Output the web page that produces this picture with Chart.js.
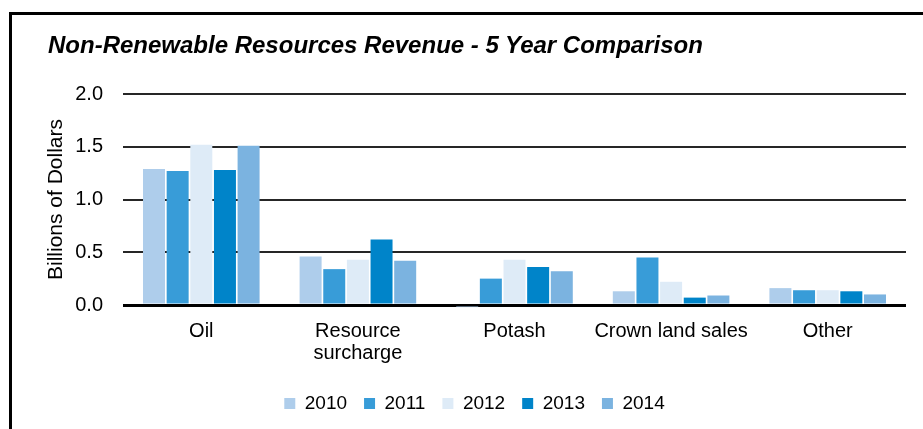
<!DOCTYPE html>
<html>
<head>
<meta charset="utf-8">
<script src="https://cdn.jsdelivr.net/npm/chart.js@4"></script>
<style>
  html, body { margin: 0; padding: 0; background: #fff; }
  body { width: 923px; height: 429px; position: relative; overflow: hidden; font-family: "Liberation Sans", Arial, sans-serif; }
  #frame { position: absolute; left: 9px; top: 12px; width: 911px; height: 414px; border-left: 3px solid #000; border-top: 3px solid #000; }
  #title { position: absolute; left: 48px; top: 33px; font: italic bold 24px "Liberation Sans", Arial, sans-serif; line-height: 24px; color: #000; white-space: nowrap; }
  #chartBox { position: absolute; left: 0; top: 0; width: 911px; height: 414px; }
</style>
</head>
<body>
<div id="frame">
  <div id="chartBox"><canvas id="revenueChart"></canvas></div>
</div>
<div id="title">Non-Renewable Resources Revenue - 5 Year Comparison</div>
<script>
// Chart data (billions of dollars)
const categories = ['Oil', ['Resource', 'surcharge'], 'Potash', 'Crown land sales', 'Other'];
const years = ['2010', '2011', '2012', '2013', '2014'];
const values2010 = [1.29, 0.46, -0.02, 0.13, 0.16];
const values2011 = [1.27, 0.34, 0.25, 0.45, 0.14];
const values2012 = [1.52, 0.43, 0.43, 0.22, 0.14];
const values2013 = [1.28, 0.62, 0.36, 0.07, 0.13];
const values2014 = [1.51, 0.42, 0.32, 0.09, 0.10];
const yTicks = [0, 0.5, 1.0, 1.5, 2.0];

const seriesValues = [values2010, values2011, values2012, values2013, values2014];
const seriesColors = ['#AECDEB', '#389CD8', '#DEEBF7', '#0084C9', '#7BB3E0'];

const fontFamily = '"Liberation Sans", Arial, sans-serif';

// Build datasets
const datasets = years.map((year, i) => ({
    label: year,
    data: seriesValues[i],
    backgroundColor: seriesColors[i],
    borderWidth: 0,
    categoryPercentage: 0.755,
    barPercentage: 0.93,
    clip: false
}));

const ctx = document.getElementById('revenueChart').getContext('2d');
const revenueChart = new Chart(ctx, {
    type: 'bar',
    data: {
        labels: categories,
        datasets: datasets
    },
    options: {
        responsive: true,
        maintainAspectRatio: false,
        animation: false,
        layout: {
            padding: { top: 79, left: 31, right: 17, bottom: 6 }
        },
        plugins: {
            legend: {
                position: 'bottom',
                labels: {
                    boxWidth: 11,
                    boxHeight: 11,
                    padding: 17,
                    color: '#000',
                    font: { family: fontFamily, size: 19 }
                }
            },
            tooltip: { enabled: false }
        },
        scales: {
            x: {
                afterFit: (scale) => { scale.height = 72; },
                grid: { display: false },
                border: { display: false },
                ticks: {
                    color: '#000',
                    padding: 7,
                    maxRotation: 0,
                    autoSkip: false,
                    font: { family: fontFamily, size: 20, lineHeight: 1.1 }
                }
            },
            y: {
                min: 0,
                max: 2,
                afterFit: (scale) => { scale.width = 80; },
                afterBuildTicks: (scale) => { scale.ticks = yTicks.map(v => ({ value: v })); },
                border: { display: false },
                grid: {
                    drawTicks: false,
                    color: (c) => c.tick && c.tick.value === 0 ? '#000' : '#262626',
                    lineWidth: (c) => c.tick && c.tick.value === 0 ? 3 : 2
                },
                ticks: {
                    color: '#000',
                    padding: 20,
                    font: { family: fontFamily, size: 20 },
                    callback: (v) => Number(v).toFixed(1)
                },
                title: {
                    display: true,
                    text: 'Billions of Dollars',
                    color: '#000',
                    padding: { top: 1, bottom: 0 },
                    font: { family: fontFamily, size: 21 }
                }
            }
        }
    }
});
</script>
</body>
</html>
